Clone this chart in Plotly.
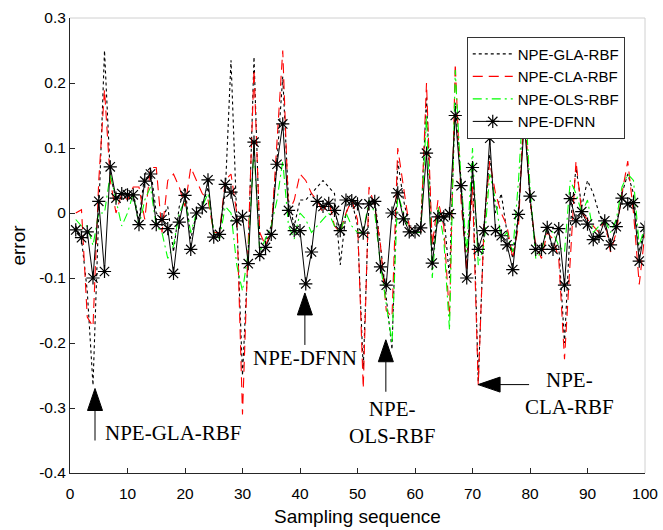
import plotly.graph_objects as go

x = list(range(1, 101))

dfnn = [-0.026, -0.038, -0.029, -0.100, 0.018, -0.090, 0.071, 0.023, 0.030, 0.028,
        0.028, -0.018, 0.049, 0.060, -0.018, -0.010, -0.024, -0.093, -0.014, 0.027,
        -0.056, 0.000, 0.008, 0.051, -0.037, -0.033, 0.044, 0.032, -0.012, -0.005,
        -0.078, 0.109, -0.064, -0.053, -0.033, 0.075, 0.137, 0.004, -0.027, -0.027,
        -0.109, -0.060, 0.018, 0.010, 0.015, 0.004, -0.027, 0.020, 0.019, 0.014,
        -0.031, 0.014, 0.018, -0.083, -0.111, 0.000, 0.031, -0.009, -0.029, -0.029,
        -0.023, 0.092, -0.077, -0.006, -0.006, -0.001, 0.150, 0.042, -0.100, 0.070,
        -0.056, -0.027, 0.115, -0.027, -0.035, -0.049, -0.087, -0.002, 0.140, 0.026,
        -0.056, -0.056, -0.022, -0.056, -0.024, -0.111, 0.022, -0.012, 0.002, -0.017,
        -0.041, -0.036, -0.012, -0.049, -0.021, 0.023, 0.014, 0.016, -0.074, -0.022]

gla = [-0.02, -0.04, -0.12, -0.265, 0.0, 0.25, 0.06, 0.02, 0.03, 0.03,
       0.03, -0.01, 0.06, 0.07, 0.0, -0.01, 0.01, -0.06, 0.01, 0.04,
       -0.04, 0.0, 0.01, 0.04, -0.03, -0.03, 0.03, 0.235, 0.0, -0.25,
       -0.06, 0.24, -0.04, -0.04, -0.02, 0.08, 0.21, 0.02, -0.02, 0.02,
       0.02, 0.03, 0.04, 0.05, 0.04, 0.03, -0.08, 0.0, 0.02, -0.02,
       -0.24, 0.02, 0.02, -0.05, -0.13, -0.21, 0.08, 0.02, -0.02, -0.02,
       -0.02, 0.18, -0.06, 0.0, 0.0, -0.1, 0.17, 0.05, -0.08, 0.07,
       -0.26, -0.02, 0.09, 0.0, 0.03, -0.03, -0.07, 0.0, 0.16, 0.02,
       -0.06, -0.06, -0.02, -0.06, -0.05, -0.2, -0.02, 0.07, 0.01, 0.05,
       0.03, 0.0, -0.02, -0.05, -0.02, 0.03, 0.06, 0.03, -0.06, -0.02]

cla = [0.0, 0.005, -0.16, -0.175, 0.05, 0.19, 0.05, 0.0, 0.03, 0.02,
       0.04, 0.04, -0.01, 0.07, 0.07, -0.03, 0.05, 0.06, 0.04, 0.01,
       0.07, 0.05, 0.03, 0.02, -0.03, -0.03, 0.05, 0.06, 0.0, -0.31,
       -0.06, 0.22, -0.03, -0.05, -0.03, 0.11, 0.25, 0.0, 0.02, 0.06,
       0.05, 0.03, 0.02, 0.0, 0.02, -0.02, -0.03, 0.0, 0.02, -0.01,
       -0.27, 0.04, 0.01, -0.05, -0.15, -0.16, 0.1, 0.04, -0.02, -0.03,
       -0.03, 0.2, -0.05, 0.02, -0.02, -0.16, 0.23, 0.02, -0.09, 0.04,
       -0.265, -0.02, 0.08, 0.03, 0.0, -0.02, -0.07, -0.02, 0.17, 0.02,
       -0.05, -0.07, -0.03, -0.04, -0.07, -0.225, -0.07, 0.08, 0.0, -0.01,
       -0.02, -0.03, -0.01, -0.06, -0.03, 0.03, 0.08, 0.0, -0.11, -0.03]

ols = [-0.01, -0.02, -0.02, -0.05, 0.0, 0.0, 0.06, 0.02, -0.02, 0.0,
       0.03, -0.02, 0.02, 0.04, -0.02, -0.03, -0.07, -0.05, 0.0, 0.02,
       -0.03, 0.0, 0.01, 0.03, -0.03, -0.04, 0.01, 0.0, -0.08, -0.12,
       -0.06, 0.1, -0.06, -0.04, -0.02, 0.02, 0.08, -0.02, -0.04, 0.0,
       -0.01, -0.03, -0.02, -0.01, 0.0, -0.02, -0.03, 0.0, -0.02, -0.03,
       -0.03, 0.02, 0.0, -0.08, -0.14, -0.2, 0.03, 0.0, -0.03, -0.03,
       -0.03, 0.15, -0.1, 0.01, -0.04, -0.18, 0.22, 0.05, -0.06, 0.1,
       -0.08, -0.05, 0.06, 0.02, -0.04, -0.03, -0.06, 0.05, 0.2, 0.04,
       -0.07, -0.06, -0.02, -0.03, -0.05, -0.06, 0.05, 0.03, 0.0, 0.02,
       -0.03, -0.02, -0.01, -0.03, -0.01, 0.04, 0.06, 0.05, -0.05, -0.02]

x_ticks = [0, 10, 20, 30, 40, 50, 60, 70, 80, 90, 100]
y_ticks = [0.3, 0.2, 0.1, 0, -0.1, -0.2, -0.3, -0.4]
y_ticktext = ["0.3", "0.2", "0.1", "0", "-0.1", "-0.2", "-0.3", "-0.4"]

# arrow annotations: (anchor x, anchor y, direction, label, label x, label y, align)
arrows = [
    (4.35, -0.270, "up", "NPE-GLA-RBF", 5.79, -0.338, "left"),
    (40.85, -0.123, "up", "NPE-DFNN", 40.95, -0.2226, "center"),
    (54.93, -0.195, "up", "NPE-<br>OLS-RBF", 55.97, -0.323, "center"),
    (70.97, -0.264, "left", "NPE-<br>CLA-RBF", 86.9, -0.277, "center"),
]

fig = go.Figure()
fig.add_trace(go.Scatter(x=x, y=gla, mode="lines", name="NPE-GLA-RBF",
                         line=dict(color="black", width=1.1, dash="dot")))
fig.add_trace(go.Scatter(x=x, y=cla, mode="lines", name="NPE-CLA-RBF",
                         line=dict(color="#ff0000", width=1.1, dash="10px,6px")))
fig.add_trace(go.Scatter(x=x, y=ols, mode="lines", name="NPE-OLS-RBF",
                         line=dict(color="#00ff00", width=1.1, dash="9px,4px,2px,4px")))
fig.add_trace(go.Scatter(x=x, y=dfnn, mode="lines+markers", name="NPE-DFNN",
                         line=dict(color="black", width=1),
                         marker=dict(symbol="asterisk-open", size=11,
                                     line=dict(color="black", width=1.2))))

shapes = []
annotations = []
for ax_, ay_, d, label, lx, ly, la in arrows:
    if d == "up":
        path = "M0,0 L-7.5,-22 L7.5,-22 Z M0,-22 L0,-52"
    else:
        path = "M0,0 L22,7.5 L22,-7.5 Z M22,0 L51,0"
    shapes.append(dict(type="path", xref="x", yref="y",
                       xsizemode="pixel", ysizemode="pixel",
                       xanchor=ax_, yanchor=ay_, path=path,
                       fillcolor="black", line=dict(color="black", width=1)))
    annotations.append(dict(x=lx, y=ly, xref="x", yref="y", text=label,
                            showarrow=False, xanchor=la, yanchor="middle",
                            align="center",
                            font=dict(family="Liberation Serif", size=21, color="black")))

# light box top/right
shapes.append(dict(type="line", xref="paper", yref="paper", x0=0, x1=1, y0=1, y1=1,
                   line=dict(color="#d0d0d0", width=1)))
shapes.append(dict(type="line", xref="paper", yref="paper", x0=1, x1=1, y0=0, y1=1,
                   line=dict(color="#d0d0d0", width=1)))

fig.update_layout(
    width=663, height=530,
    margin=dict(l=70, r=18, t=18, b=57, autoexpand=False),
    paper_bgcolor="white", plot_bgcolor="white",
    font=dict(family="Liberation Sans, Arial", color="black"),
    showlegend=True,
    legend=dict(x=0.69, y=0.959, xanchor="left", yanchor="top",
                bgcolor="white", bordercolor="#333333", borderwidth=1,
                font=dict(size=15, family="Liberation Sans, Arial"),
                tracegroupgap=0, itemwidth=40),
    shapes=shapes,
    annotations=annotations,
)
fig.update_xaxes(range=[0, 100], tickvals=x_ticks, ticks="inside", ticklen=5,
                 showline=True, linecolor="#262626", linewidth=1, tickcolor="#262626",
                 showgrid=False, zeroline=False, automargin=False,
                 ticklabelstandoff=6,
                 tickfont=dict(size=15.5), title=dict(text="Sampling sequence",
                 font=dict(size=19), standoff=9))
fig.update_yaxes(range=[-0.4, 0.3], tickvals=y_ticks, ticktext=y_ticktext,
                 ticks="inside", ticklen=5,
                 showline=True, linecolor="#262626", linewidth=1, tickcolor="#262626",
                 showgrid=False, zeroline=False, automargin=False,
                 tickfont=dict(size=15.5), title=dict(text="error",
                 font=dict(size=19), standoff=8))

fig.write_html("out.html")
